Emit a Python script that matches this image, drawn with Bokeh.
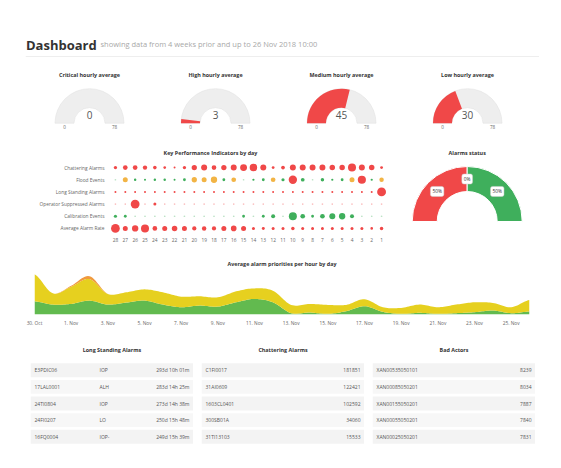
import numpy as np
import pandas as pd
from bokeh.plotting import figure
from bokeh.layouts import column, row, Spacer
from bokeh.models import ColumnDataSource, Range1d, FactorRange, FixedTicker
from bokeh.core.properties import value
from bokeh.embed import file_html
from bokeh.resources import INLINE

FONT = "Open Sans"

# ---------------- data ----------------
header_title = "Dashboard"
header_subtitle = "showing data from 4 weeks prior and up to 26 Nov 2018 10:00"

gauge_titles = ["Critical hourly average", "High hourly average",
                "Medium hourly average", "Low hourly average"]
gauge_values = [0, 3, 45, 30]
gauge_min = 0
gauge_max = 78

kpi_title = "Key Performance Indicators by day"
kpi_days = ["28", "27", "26", "25", "24", "23", "22", "21", "20", "19", "18", "17", "16", "15",
            "14", "13", "12", "11", "10", "9", "8", "7", "6", "5", "4", "3", "2", "1"]
kpi_rows = ["Chattering Alarms", "Flood Events", "Long Standing Alarms",
            "Operator Suppressed Alarms", "Calibration Events", "Average Alarm Rate"]
chattering = [11, 22, 22, 19, 13, 7, 4, 11, 28, 36, 22, 28, 36, 48, 56, 36, 8, 14, 36, 36, 36, 36, 30, 30, 64, 36, 30, 8]
flood = [0, 25, 6, 4, 6, 6, 4, 8, 28, 25, 40, 8, 22, 0, 5, 8, 22, 10, 70, 14, 0, 12, 5, 8, 25, 66, 5, 20]
long_standing = [4, 4, 4, 4, 4, 4, 4, 4, 4, 4, 4, 4, 4, 4, 4, 4, 4, 4, 4, 4, 4, 4, 4, 4, 4, 4, 4, 78]
op_suppressed = [0, 0, 78, 0, 9, 0, 0, 0, 0, 0, 0, 0, 0, 0, 0, 0, 0, 0, 0, 0, 0, 0, 0, 0, 0, 0, 0, 0]
calibration = [10, 8, 0, 0, 0, 0, 0, 0, 0, 0, 0, 0, 0, 8, 0, 8, 16, 0, 64, 22, 8, 22, 36, 40, 16, 0, 0, 0]
avg_rate = [76, 25, 40, 64, 22, 25, 30, 25, 18, 20, 18, 25, 32, 25, 9, 9, 9, 9, 12, 9, 9, 9, 9, 9, 9, 9, 7, 12]

status_title = "Alarms status"
status_names = ["Active", "Acknowledged", "Normal"]
status_values = [50, 0, 50]

area_title = "Average alarm priorities per hour by day"
area_dates = pd.date_range("2018-10-30", "2018-11-26", freq="D")
low_prio = [40, 30, 32, 42, 30, 36, 42, 30, 22, 27, 24, 37, 47, 37, 4, 6, 2, 10, 25, 8, 2, 5, 2, 4, 7, 12, 4, 9]
medium_prio = [82, 34, 52, 65, 32, 31, 34, 37, 32, 28, 28, 33, 32, 35, 25, 26, 27, 19, 21, 14, 18, 25, 20, 26, 30, 23, 18, 35]
high_prio = [0, 0, 3, 9, 0, 0, 0, 0, 0, 0, 0, 0, 0, 0, 0, 0, 0, 0, 0, 0, 0, 0, 0, 0, 0, 0, 0, 0]

lsa_title = "Long Standing Alarms"
lsa_tags = ["E3PDIC06", "17LAL0001", "24TI0804", "24FI0207", "16FQ0004"]
lsa_types = ["IOP", "ALH", "IOP", "LO", "IOP-"]
lsa_durations = ["293d 10h 01m", "283d 14h 25m", "273d 14h 38m", "250d 15h 48m", "249d 15h 39m"]

chat_title = "Chattering Alarms"
chat_tags = ["C1FI0017", "31AI0609", "1603CL0401", "300SB01A", "31TI13103"]
chat_counts = [181851, 122421, 102592, 34060, 15533]

bad_title = "Bad Actors"
bad_tags = ["XAN00535050101", "XAN00085050201", "XAN00155050201", "XAN00055050201", "XAN00025050201"]
bad_counts = [8239, 8034, 7887, 7840, 7831]

# ---------------- styles ----------------
RED = "#F04848"
ORANGE = "#F2B445"
GREEN = "#3FAF5C"
A_GREEN = "#62BA4F"
A_YELLOW = "#E6D01F"
A_ORANGE = "#F09A3E"
TXT = "#333333"
SUB = "#666666"


def bare(p):
    p.axis.visible = False
    p.grid.visible = False
    p.outline_line_color = None
    p.background_fill_color = "white"
    p.border_fill_color = "white"
    return p


def chart_title(p, x, y, text):
    p.text(x=[x], y=[y], text=[text], text_font=value(FONT), text_font_size="5.4px",
           text_font_style="bold", text_color=TXT, text_align="center", text_baseline="middle")


# ---------------- header ----------------
hdr = bare(figure(width=514, height=52, x_range=Range1d(0, 514), y_range=Range1d(0, 52),
                  toolbar_location=None, output_backend="svg", min_border=0))
hdr.text(x=[0.5], y=[15.7], text=[header_title], text_font=value(FONT), text_font_size="13px",
         text_font_style="bold", text_color=TXT, text_baseline="alphabetic", text_align="left")
hdr.text(x=[75], y=[16.3], text=[header_subtitle], text_font=value(FONT), text_font_size="7.5px",
         text_color="#A8A8A8", text_baseline="alphabetic", text_align="left")
hdr.hspan(y=[4.3], line_color="#EEEEEE", line_width=1)
header_row = row(Spacer(width=17, height=52), hdr)


# ---------------- gauges ----------------
def gauge(title, val):
    R = 34.5
    W, H = 126, 82
    b = 19.3
    p = bare(figure(width=W, height=H, x_range=Range1d(-W / 2 / R, W / 2 / R),
                    y_range=Range1d(-b / R, (H - b) / R),
                    toolbar_location=None, output_backend="svg", min_border=0))
    inner = 0.45
    p.annular_wedge(x=0, y=0, inner_radius=inner, outer_radius=1, start_angle=0, end_angle=np.pi,
                    fill_color="#EEEEEE", line_color="#E2E2E2", line_width=0.6)
    frac = (val - gauge_min) / (gauge_max - gauge_min)
    if frac > 0:
        p.annular_wedge(x=0, y=0, inner_radius=inner, outer_radius=1,
                        start_angle=np.pi * (1 - frac), end_angle=np.pi,
                        fill_color=RED, line_color=None)
    chart_title(p, 0, (122.7 - 74.4) / R, title)
    p.text(x=[0], y=[0.24], text=[str(val)], text_font=value(FONT), text_font_size="10px",
           text_color="#555555", text_align="center", text_baseline="middle")
    mid = (1 + inner) / 2
    p.text(x=[-mid, mid], y=[-0.12, -0.12], text=[str(gauge_min), str(gauge_max)],
           text_font=value(FONT), text_font_size="4.6px", text_color=SUB,
           text_align="center", text_baseline="middle")
    return p


gauges = [gauge(t, v) for t, v in zip(gauge_titles, gauge_values)]
gauge_row = row(Spacer(width=18, height=82), *gauges)

# ---------------- titles of the middle row ----------------
kt = bare(figure(width=387, height=19, x_range=Range1d(0, 387), y_range=Range1d(0, 19),
                 toolbar_location=None, output_backend="svg", min_border=0))
chart_title(kt, 202, 8.3, kpi_title)
stt = bare(figure(width=158, height=19, x_range=Range1d(0, 158), y_range=Range1d(0, 19),
                  toolbar_location=None, output_backend="svg", min_border=0))
chart_title(stt, 71.7, 8.3, status_title)
title_row = row(kt, stt)

# ---------------- KPI bubbles ----------------
kpi = figure(width=387, height=87, x_range=FactorRange(*kpi_days), y_range=FactorRange(*kpi_rows[::-1]),
             toolbar_location=None, output_backend="svg",
             min_border_left=102, min_border_right=9, min_border_top=0, min_border_bottom=14)
kpi.grid.visible = False
kpi.outline_line_color = None
for ax in (kpi.xaxis[0], kpi.yaxis[0]):
    ax.axis_line_color = None
    ax.major_tick_line_color = None
    ax.minor_tick_line_color = None
    ax.major_tick_out = 0
    ax.major_tick_in = 0
    ax.major_label_text_font = FONT
    ax.major_label_text_font_size = "4.8px"
    ax.major_label_text_color = SUB
kpi.xaxis.major_label_standoff = 3
kpi.yaxis.major_label_standoff = 6

series = [chattering, flood, long_standing, op_suppressed, calibration, avg_rate]
xs, ys, sizes, colors, alphas = [], [], [], [], []
for name, vals in zip(kpi_rows, series):
    for d, v in zip(kpi_days, vals):
        xs.append(d)
        ys.append(name)
        sizes.append(max(1.7, float(np.sqrt(v))))
        if name == "Flood Events":
            c = GREEN if v < 20 else (ORANGE if v < 50 else RED)
        elif name == "Calibration Events":
            c = GREEN
        else:
            c = RED
        colors.append(c)
        alphas.append(0.35 if v == 0 else 1.0)
kpi.scatter(x="x", y="y", size="size", fill_color="color", fill_alpha="alpha", line_color=None,
            source=ColumnDataSource(dict(x=xs, y=ys, size=sizes, color=colors, alpha=alphas)))

# ---------------- alarms status ----------------
Rs = 55.0
st = bare(figure(width=158, height=87, x_range=Range1d(-71.7 / Rs, 86.3 / Rs),
                 y_range=Range1d(-13 / Rs, 60 / Rs),
                 toolbar_location=None, output_backend="svg",
                 min_border_left=0, min_border_right=0, min_border_top=0, min_border_bottom=14))
total = float(sum(status_values))
cum = np.concatenate([[0], np.cumsum(status_values)]) / total
starts = np.pi * (1 - cum[:-1])
ends = np.pi * (1 - cum[1:])
slice_colors = [RED, ORANGE, GREEN]
keep = [i for i, v in enumerate(status_values) if v > 0]
st.annular_wedge(x=0, y=0, inner_radius=30 / Rs, outer_radius=1,
                 start_angle=[starts[i] for i in keep], end_angle=[ends[i] for i in keep],
                 direction="clock", fill_color=[slice_colors[i] for i in keep],
                 line_color="white", line_width=1)
mids = (starts + ends) / 2
rl = (1 + 30 / Rs) / 2
st.text(x=list(rl * np.cos(mids)), y=list(rl * np.sin(mids)),
        text=[f"{v / total * 100:.0f}%" for v in status_values],
        text_font=value(FONT), text_font_size="4.8px", text_color=TXT,
        text_align="center", text_baseline="middle",
        background_fill_color="white", border_line_color="#CCCCCC", border_line_width=0.5,
        padding=2, border_radius=2)

body_row = row(kpi, st)


# ---------------- area chart ----------------
def smooth(xv, yv, n=12):
    xv = np.asarray(xv, float)
    yv = np.asarray(yv, float)
    P = np.concatenate([[yv[0]], yv, [yv[-1]]])
    ox, oy = [], []
    t = np.linspace(0, 1, n, endpoint=False)
    for i in range(len(xv) - 1):
        p0, p1, p2, p3 = P[i], P[i + 1], P[i + 2], P[i + 3]
        yy = 0.5 * (2 * p1 + (-p0 + p2) * t + (2 * p0 - 5 * p1 + 4 * p2 - p3) * t ** 2
                    + (-p0 + 3 * p1 - 3 * p2 + p3) * t ** 3)
        ox.extend(xv[i] + (xv[i + 1] - xv[i]) * t)
        oy.extend(yy)
    ox.append(xv[-1])
    oy.append(yv[-1])
    return np.array(ox), np.array(oy)


day_idx = np.arange(len(area_dates))
c1 = np.array(low_prio, float)
c2 = c1 + np.array(medium_prio, float)
c3 = c2 + np.array(high_prio, float)
fx, s1 = smooth(day_idx, c1)
_, s2 = smooth(day_idx, c2)
_, s3 = smooth(day_idx, c3)
s1 = np.maximum(s1, 0)
s2 = np.maximum(s2, s1)
s3 = np.maximum(s3, s2)

YMAX = 124.0
ytop = YMAX * 66 / 41
ar = figure(width=545, height=82, x_range=Range1d(0, len(area_dates) - 1), y_range=Range1d(0, ytop),
            toolbar_location=None, output_backend="svg",
            min_border_left=26, min_border_right=24, min_border_top=0, min_border_bottom=16)
ar.grid.visible = False
ar.outline_line_color = None
ar.yaxis.visible = False
ar.varea(x=fx, y1=np.zeros_like(s1), y2=s1, fill_color=A_GREEN)
ar.varea(x=fx, y1=s1, y2=s2, fill_color=A_YELLOW)
ar.varea(x=fx, y1=s2, y2=s3, fill_color=A_ORANGE)
tick_idx = list(range(0, len(area_dates), 2))
ar.xaxis.ticker = FixedTicker(ticks=tick_idx)
ar.xaxis.major_label_overrides = {i: f"{area_dates[i].day}. {area_dates[i].strftime('%b')}" for i in tick_idx}
ar.xaxis.axis_line_color = None
ar.xaxis.major_tick_line_color = None
ar.xaxis.minor_tick_line_color = None
ar.xaxis.major_tick_out = 0
ar.xaxis.major_tick_in = 0
ar.xaxis.major_label_text_font = FONT
ar.xaxis.major_label_text_font_size = "4.8px"
ar.xaxis.major_label_text_color = SUB
ar.xaxis.major_label_standoff = 5
chart_title(ar, (len(area_dates) - 1) / 2, YMAX * (314 - 263) / 41, area_title)


# ---------------- tables ----------------
def table(title, names, mids_, rights):
    W = 163
    top = (330 - 369.8) / 16.6
    bot = (460 - 369.8) / 16.6
    p = bare(figure(width=W, height=130, x_range=Range1d(0, W), y_range=Range1d(bot, top),
                    toolbar_location=None, output_backend="svg", min_border=0))
    n = len(names)
    idx = list(range(n))
    p.rect(x=[W / 2] * n, y=idx, width=W, height=0.84,
           fill_color=["#F3F3F3" if i % 2 == 0 else "#F7F7F7" for i in idx], line_color=None)
    chart_title(p, W / 2, (349 - 369.8) / 16.6, title)
    p.text(x=[4] * n, y=idx, text=names, text_font=value(FONT), text_font_size="5px",
           text_color="#555555", text_align="left", text_baseline="middle")
    if mids_ is not None:
        p.text(x=[69] * n, y=idx, text=mids_, text_font=value(FONT), text_font_size="5px",
               text_color="#555555", text_align="left", text_baseline="middle")
    p.text(x=[159] * n, y=idx, text=[str(r) for r in rights], text_font=value(FONT), text_font_size="5px",
           text_color="#555555", text_align="right", text_baseline="middle")
    return p


t1 = table(lsa_title, lsa_tags, lsa_types, lsa_durations)
t2 = table(chat_title, chat_tags, None, chat_counts)
t3 = table(bad_title, bad_tags, None, bad_counts)
table_row = row(Spacer(width=22, height=130), t1, Spacer(width=8, height=130), t2,
                Spacer(width=8, height=130), t3)

main = column(header_row, gauge_row, title_row, body_row, ar, table_row, spacing=0)
page = column(Spacer(width=553, height=8), row(Spacer(width=8, height=452), main), spacing=0)

open("out.html", "w").write(file_html(page, INLINE))
